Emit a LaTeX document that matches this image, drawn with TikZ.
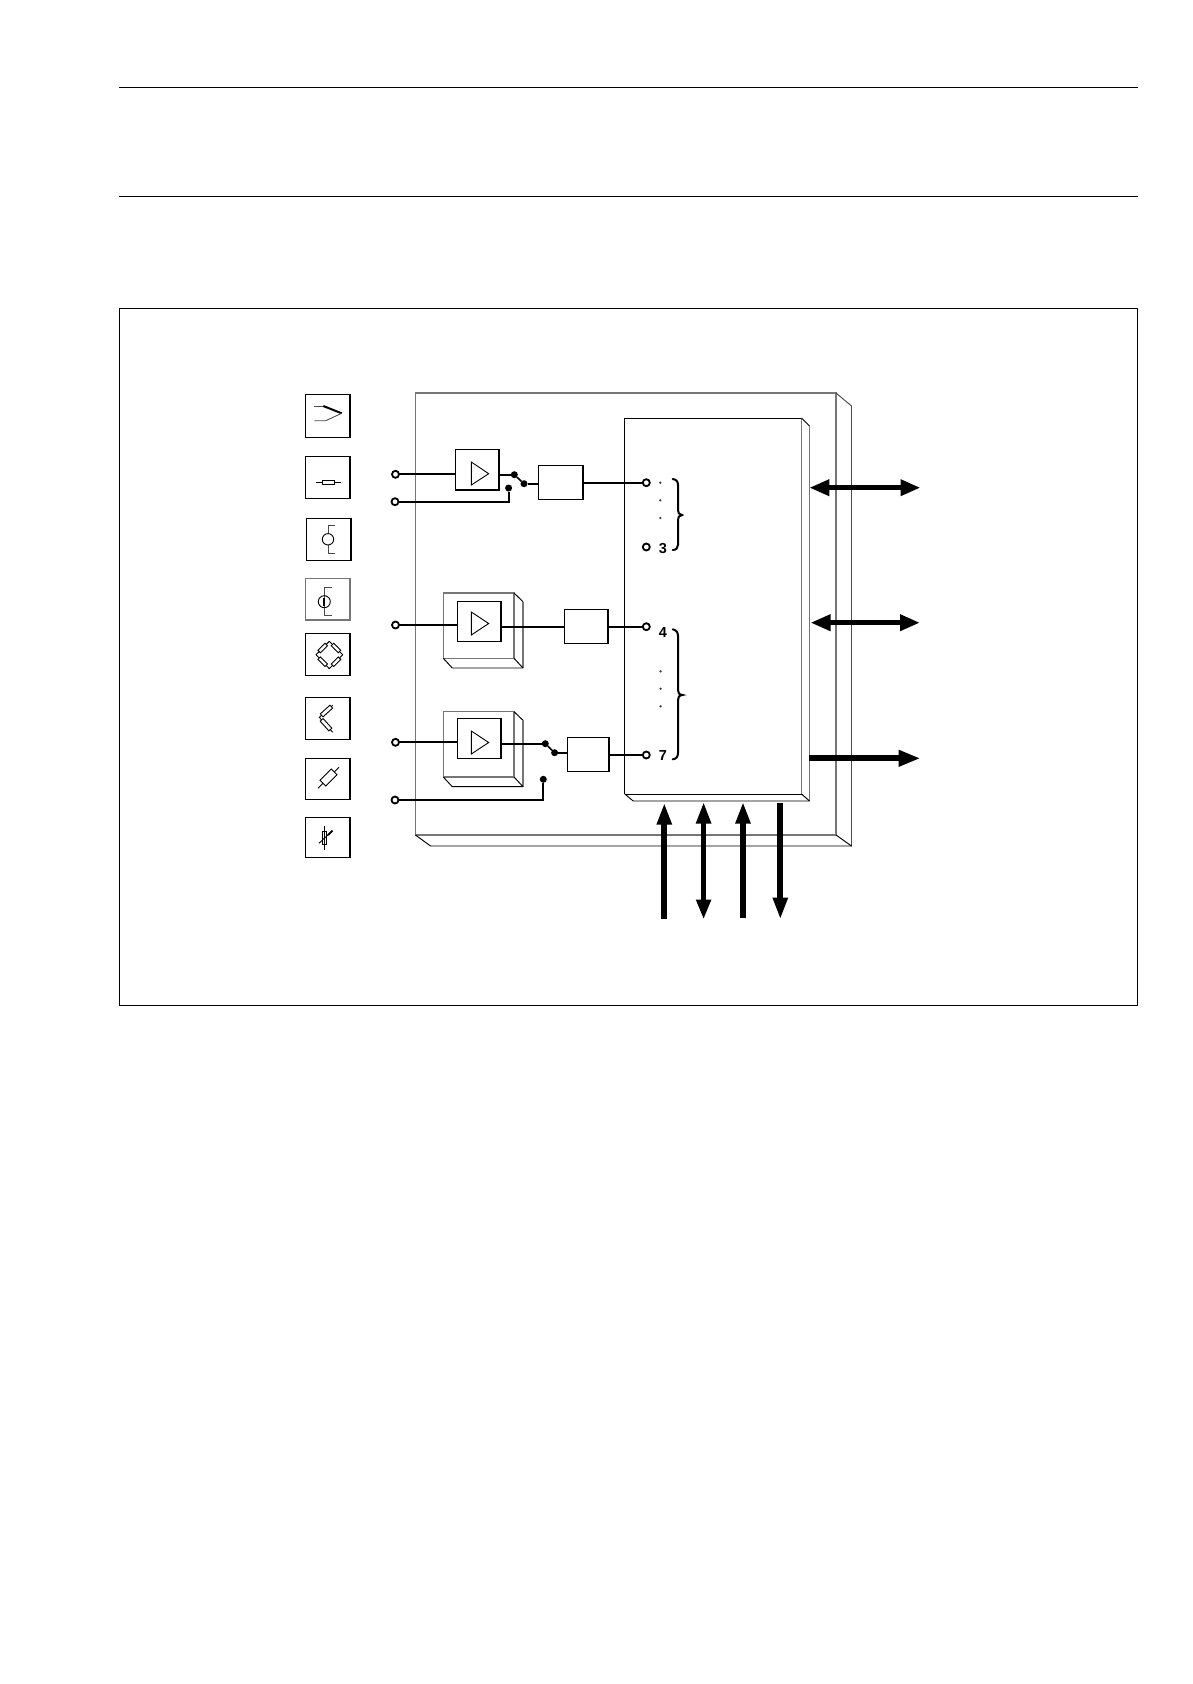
\documentclass[tikz,border=0pt]{standalone}
\usepackage{fontspec}
\setmainfont{Liberation Sans}
\usetikzlibrary{arrows.meta}
\definecolor{edgegray}{HTML}{767676}
\tikzset{
  thinline/.style={line width=.95pt,draw=black},
  grayline/.style={line width=1.5pt,draw=edgegray},
  wire/.style={line width=2.1pt,draw=black},
  sigwire/.style={line width=1.6pt,draw=black},
  boxnode/.style={draw=black,line width=1.1pt,inner sep=0pt,outer sep=0pt,fill=white},
  sensorbox/.style={boxnode,line width=1.3pt},
  term/.style={circle,draw=black,line width=1.8pt,fill=white,inner sep=0pt,minimum size=7pt,outer sep=0pt},
  swdot/.style={circle,fill=black,inner sep=0pt,minimum size=7pt,outer sep=0pt},
  pindot/.style={circle,fill=black!75,inner sep=0pt,minimum size=2.6pt},
  pinlabel/.style={font=\bfseries\fontsize{14.5}{14.5}\selectfont,inner sep=0pt},
  icon/.style={line width=.9pt,draw=black},
  brace/.style={line width=2pt,draw=black,line cap=round},
  hd/.style={-{Triangle[length=22pt,width=14pt]},line width=6pt,draw=black},
  dhd/.style={{Triangle[length=20pt,width=15.5pt]}-{Triangle[length=20pt,width=15.5pt]},line width=5.5pt,draw=black},
  vdhd/.style={{Triangle[length=22pt,width=14pt]}-{Triangle[length=20pt,width=14pt]},line width=5.5pt,draw=black},
}
\newcommand{\bx}[6][boxnode]{\node[#1,minimum width={#4-#2},minimum height={#5-#3}] (#6) at ({(#2+#4)/2},{(#3+#5)/2}) {};}
\newcommand{\res}[5]{\draw[icon,fill=white,shift={(#1,#2)},rotate=#3] (-#4,-#5) rectangle (#4,#5);}
\newcommand{\ampshape}[3]{\draw[thinline,line width=.9pt] (471.3,#1) -- (471.3,#2) -- (488.7,#3) -- cycle;}
\newcommand{\ampblock}[5]{% top, depth, bottom, depth bottom, unused
  \draw[grayline] (443.3,#1) rectangle (514,#3);
  \draw[thinline] (514,#1) -- (523,#2);
  \draw[thinline] (523,#4) -- (452.3,#4) -- (443.3,#3);
  \draw[grayline] (523,#2) -- (523,#4);
  \draw[thinline] (514,#3) -- (523,#4);
}
\begin{document}
\begin{tikzpicture}[x=1pt,y=-1pt]
\useasboundingbox[fill=white] (0,0) rectangle (1192,1684);
% page rules and frame
\coordinate (ruleAl) at (119,87.3); \coordinate (ruleAr) at (1138,87.3);
\coordinate (ruleBl) at (119,196.5); \coordinate (ruleBr) at (1138,196.5);
\draw[line width=.9pt] (ruleAl) -- (ruleAr);
\draw[line width=.9pt] (ruleBl) -- (ruleBr);
\draw[line width=.9pt] (119.4,308.4) rectangle (1137.6,1005.4);
% main block
\draw[grayline] (415.5,393) rectangle (836,835);
\draw[thinline,draw=black!70] (836,393) -- (851.5,406) -- (851.5,846);
\draw[thinline] (851.5,846) -- (430.5,846) -- (415.5,835);
\draw[thinline] (836,835) -- (851.5,846);
% processor block
\draw[thinline] (624.8,794) -- (624.8,418.4) -- (801.5,418.4);
\draw[thinline] (624.8,794) -- (801.5,794);
\draw[grayline] (801.5,418) -- (801.5,794);
\draw[thinline] (801.5,418) -- (809.5,426);
\draw[grayline] (809.5,426) -- (809.5,801);
\draw[thinline] (809.5,801) -- (633.2,801) -- (624.8,794);
\draw[thinline] (801.5,794) -- (809.5,801);
% sensor boxes
\bx[sensorbox]{305.5}{394.3}{350}{437.3}{s1}
\bx[sensorbox]{305.5}{456.3}{350}{498.3}{s2}
\bx[sensorbox]{306.5}{518.3}{351}{560.3}{s3}
\bx[sensorbox,draw=edgegray]{305.5}{578.3}{350}{620}{s4}
\bx[sensorbox]{305.5}{633.3}{350}{675.3}{s5}
\bx[sensorbox]{305.5}{697.3}{350}{739.3}{s6}
\bx[sensorbox]{305.5}{758.3}{350}{799.3}{s7}
\bx[sensorbox]{305.5}{817.3}{350}{857.3}{s8}
% sensor icons
\draw[icon,draw=black!70] (314.3,406) -- (323.3,406);
\draw[line width=2pt] (323.3,406) -- (341.7,413.3);
\draw[icon,draw=black!70] (314.3,420.7) -- (325.7,420.7) -- (341.7,413.3);
\draw[icon] (316,482.3) -- (341,482.3);
\draw[icon,fill=white] (322.3,480.2) rectangle (334.3,484.6);
\draw[icon,draw=black!70] (335.3,525.3) -- (328,525.3) -- (328,533.6);
\draw[icon,draw=black!70] (328,545) -- (328,553.3) -- (335.3,553.3);
\draw[icon] (328,539.3) circle (5.7);
\draw[icon,draw=black!70] (331.7,587.7) -- (324.3,587.7) -- (324.3,615.3) -- (331.7,615.3);
\draw[icon] (324.3,601.7) circle (6);
\draw[line width=2pt] (324.3,598) -- (324.3,606);
\draw[icon,line join=round] (329.3,641.3) -- (342.7,654.7) -- (329.3,668.7) -- (316,654.7) -- cycle;
\res{322.7}{648}{45}{5}{1.8}
\res{336}{648}{-45}{5}{1.8}
\res{322.7}{661.7}{-45}{5}{1.8}
\res{336}{661.7}{45}{5}{1.8}
\draw[icon] (332.7,705.3) -- (319.3,717.3) -- (332.7,732.3);
\res{326.5}{711}{42}{6.5}{2}
\res{326}{724.7}{-48}{6.5}{2}
\draw[icon] (318,788.3) -- (339,767.3);
\res{328.5}{777.5}{45}{8}{4}
\draw[icon] (324,825.7) -- (324,850);
\draw[icon] (322,831.7) rectangle (326.2,844);
\draw[icon] (319,843.3) -- (332,831);
\draw[line width=1.8pt] (328,835) -- (332.5,830.7);
% amplifier group 1
\bx{455.6}{449.3}{499}{490}{amp1}
\ampshape{462}{485}{473.7}
\bx{538.6}{465.3}{583}{499.3}{conv1}
% amplifier group 2
\ampblock{593}{601.7}{658.3}{668}{}
\bx{457.6}{601.3}{501}{641.7}{amp2}
\ampshape{612}{635}{623.5}
\bx{564.6}{609.3}{608}{643.3}{conv2}
% amplifier group 3
\ampblock{711.7}{720.3}{777}{786.7}{}
\bx{457.6}{718.3}{501}{758.7}{amp3}
\ampshape{731}{754}{742.5}
\bx{567.6}{737.3}{609}{771.3}{conv3}
% terminals
\node[term] (in1a) at (395.5,474.3) {};
\node[term] (in1b) at (395,501.7) {};
\node[term] (in2) at (395.5,625) {};
\node[term] (in3a) at (395.5,742.3) {};
\node[term] (in3b) at (395,800) {};
\node[swdot] (sw1a) at (514.3,474.7) {};
\node[swdot] (sw1b) at (524,483.7) {};
\node[swdot] (sw1c) at (508.6,488) {};
\node[swdot] (sw3a) at (545.3,743.7) {};
\node[swdot] (sw3b) at (554.6,752.7) {};
\node[swdot] (sw3c) at (543.3,779.3) {};
\node[term] (p0) at (646.3,482.7) {};
\node[term] (p3) at (646.3,547) {};
\node[term] (p4) at (646.3,626.7) {};
\node[term] (p7) at (646.3,755) {};
\node[pinlabel] (l3) at (663,549) {3};
\node[pinlabel] (l4) at (663,633) {4};
\node[pinlabel] (l7) at (663,755.5) {7};
\node[pindot] (d1) at (660.3,482.7) {};
\node[pindot] (d2) at (660.3,500.3) {};
\node[pindot] (d3) at (660.3,518) {};
\node[pindot] (d4) at (660.6,671.3) {};
\node[pindot] (d5) at (660.6,688.7) {};
\node[pindot] (d6) at (660.6,706.3) {};
% wires
\draw[wire] (in1a) -- (amp1.west |- in1a);
\draw[wire] (amp1.east |- sw1a) -- (sw1a);
\draw[wire] (in1b) -- (sw1c |- in1b) -- (sw1c);
\draw[sigwire] (sw1a) -- (sw1b);
\draw[wire] (sw1b) -- (conv1.west |- sw1b);
\draw[wire,line width=1.9pt] (conv1.east |- p0) -- (p0);
\draw[wire,line width=1.8pt] (in2) -- (amp2.west |- in2);
\draw[wire] (amp2.east |- p4) -- (conv2.west |- p4);
\draw[wire] (conv2.east |- p4) -- (p4);
\draw[wire,line width=1.8pt] (in3a) -- (amp3.west |- in3a);
\draw[wire] (amp3.east |- sw3a) -- (sw3a);
\draw[sigwire] (sw3a) -- (sw3b);
\draw[wire] (sw3b) -- (conv3.west |- sw3b);
\draw[sigwire] (conv3.east |- p7) -- (p7);
\draw[wire] (in3b) -- (sw3c |- in3b) -- (sw3c);
% braces
\draw[brace] (672.7,479) .. controls (676,479.5) and (678,481) .. (678,485) -- (678,510) .. controls (678,513) and (679,514.5) .. (682,515) .. controls (679,515.5) and (678,517) .. (678,520) -- (678,545) .. controls (678,548) and (676,550) .. (672.7,550);
\draw[brace] (672.7,629.3) .. controls (676,630) and (678,632) .. (678,636) -- (678,690) .. controls (678,693) and (679,694.5) .. (682.5,695) .. controls (679,695.5) and (678,697) .. (678,700) -- (678,753) .. controls (678,757) and (676,759) .. (672.7,759.3);
% buses
\coordinate (bR1a) at (809.3,487.7); \coordinate (bR1b) at (920.5,487.7);
\coordinate (bR2a) at (810.5,622.7); \coordinate (bR2b) at (920,622.7);
\coordinate (bR3a) at (809,758.3); \coordinate (bR3b) at (920.5,758.3);
\coordinate (bB1a) at (664.3,918.5); \coordinate (bB1b) at (664.3,802.7);
\coordinate (bB2a) at (703.6,801.7); \coordinate (bB2b) at (703.6,919.5);
\coordinate (bB3a) at (743,917.5); \coordinate (bB3b) at (743,801.7);
\coordinate (bB4a) at (780.3,802.7); \coordinate (bB4b) at (780.3,919.5);
\draw[dhd] (bR1a) -- (bR1b);
\draw[dhd,line width=5pt] (bR2a) -- (bR2b);
\draw[hd,-{Triangle[length=22pt,width=15.5pt]}] (bR3a) -- (bR3b);
\draw[hd] (bB1a) -- (bB1b);
\draw[vdhd] (bB2a) -- (bB2b);
\draw[hd] (bB3a) -- (bB3b);
\draw[hd] (bB4a) -- (bB4b);
\end{tikzpicture}
\end{document}
